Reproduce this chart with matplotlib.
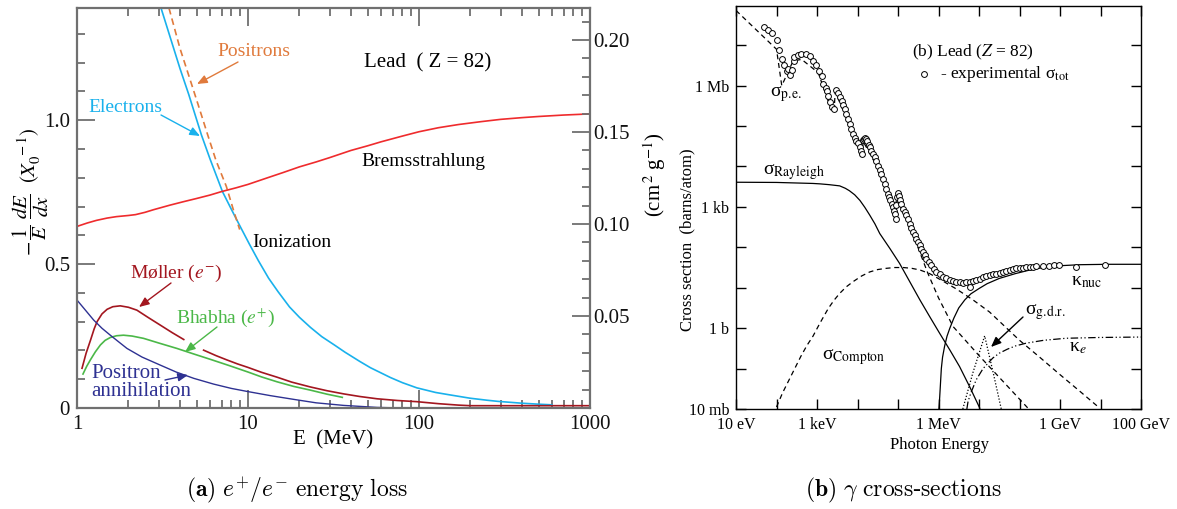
import numpy as np
import matplotlib
matplotlib.use("Agg")
import matplotlib.pyplot as plt
from matplotlib.lines import Line2D
from matplotlib.patches import FancyArrowPatch
from matplotlib.ticker import LogLocator, MultipleLocator, NullFormatter

plt.rcParams['font.family'] = ['Liberation Serif', 'DejaVu Serif']
plt.rcParams['mathtext.fontset'] = 'stix'

W, H = 1177, 509

# ---------------- panel (a): e+/e- energy loss in lead ----------------
electrons_E = [3.1, 3.5, 4.0, 4.5, 5.34, 6.0, 7.09, 8.0, 8.49, 9.2, 10.2, 11.5, 13.2, 15, 17.5,
               20, 23.2, 27, 32, 36.9, 45, 52, 59, 68, 80, 97.2, 125, 150, 199, 250, 290, 400,
               510, 600]
electrons_y = [1.39, 1.29, 1.18, 1.09, 0.949, 0.865, 0.752, 0.69, 0.66, 0.62, 0.569, 0.512,
               0.451, 0.404, 0.351, 0.315, 0.280, 0.248, 0.219, 0.194, 0.162, 0.140, 0.124,
               0.106, 0.088, 0.070, 0.054, 0.046, 0.034, 0.027, 0.023, 0.0166, 0.013, 0.011]

positrons_E = [3.45, 4.0, 4.69, 5.2, 5.77, 6.5, 7.47, 8.2, 8.94]
positrons_y = [1.39, 1.25, 1.123, 1.04, 0.955, 0.86, 0.77, 0.69, 0.62]

brems_E = [1, 1.15, 1.3, 1.5, 1.7, 2.0, 2.2, 2.5, 2.8, 3.5, 4.2, 5, 6, 7, 8.5, 10, 13, 16, 20,
           25, 30, 40, 50, 60, 80, 100, 130, 170, 230, 300, 400, 500, 700, 1000]
brems_y = [0.631, 0.643, 0.652, 0.660, 0.665, 0.669, 0.672, 0.680, 0.689, 0.705, 0.717, 0.728,
           0.740, 0.752, 0.765, 0.777, 0.80, 0.818, 0.838, 0.855, 0.87, 0.895, 0.911, 0.925,
           0.945, 0.96, 0.974, 0.985, 0.995, 1.003, 1.009, 1.013, 1.018, 1.022]

moller_E1 = [1.07, 1.13, 1.2, 1.26, 1.31, 1.4, 1.5, 1.62, 1.79, 2.0, 2.24, 2.6, 3.07, 3.6, 4.21]
moller_y1 = [0.138, 0.19, 0.236, 0.275, 0.300, 0.327, 0.343, 0.352, 0.355, 0.350, 0.340, 0.315,
             0.288, 0.262, 0.238]
moller_E2 = [5.5, 6.5, 7.53, 8.7, 10, 12, 14.8, 18, 23.2, 29, 36.3, 45, 56.9, 75, 97.2, 130,
             170, 200, 1000]
moller_y2 = [0.201, 0.182, 0.167, 0.153, 0.141, 0.124, 0.107, 0.090, 0.073, 0.06, 0.049, 0.040,
             0.032, 0.026, 0.022, 0.015, 0.010, 0.008, 0.008]

bhabha_E = [1.084, 1.14, 1.197, 1.28, 1.37, 1.46, 1.566, 1.7, 1.87, 2.1, 2.45, 3.0, 3.84, 4.8,
            6.03, 7.8, 10, 12, 14.8, 18.5, 23.2, 29, 35.6]
bhabha_y = [0.118, 0.145, 0.167, 0.195, 0.219, 0.235, 0.245, 0.251, 0.253, 0.250, 0.242, 0.226,
            0.207, 0.188, 0.169, 0.147, 0.125, 0.108, 0.091, 0.075, 0.062, 0.048, 0.037]

annih_E = [1, 1.12, 1.25, 1.4, 1.566, 1.76, 1.96, 2.4, 3.07, 3.8, 4.82, 6.3, 8, 10, 13.5, 18.5,
           25, 36.3, 56.9, 80]
annih_y = [0.375, 0.34, 0.306, 0.277, 0.253, 0.229, 0.207, 0.177, 0.149, 0.125, 0.103, 0.083,
           0.068, 0.057, 0.043, 0.030, 0.018, 0.009, 0.002, 0.0]

a_xticks = [1, 10, 100, 1000]
a_xticklabels = ['1', '10', '100', '1000']
a_yticks = [0, 0.5, 1.0]
a_yticklabels = ['0', '0.5', '1.0']
a_rticks = [0.05, 0.10, 0.15, 0.20]
a_rticklabels = ['0.05', '0.10', '0.15', '0.20']

# ---------------- panel (b): photon cross sections (log10 eV, log10 barn) ----------------
tot_pts = [
    (1.698, 7.449), (1.797, 7.367), (1.879, 7.310), (2.002, 7.121), (2.068, 6.882),
    (2.126, 6.652), (2.191, 6.513), (2.249, 6.365), (2.290, 6.406), (2.331, 6.266),
    (2.372, 6.381), (2.438, 6.611), (2.438, 6.710), (2.537, 6.759), (2.602, 6.776),
    (2.726, 6.776), (2.824, 6.735), (2.906, 6.611), (2.972, 6.513), (3.054, 6.365),
    (3.112, 6.242), (3.153, 6.036), (3.210, 5.937), (3.235, 5.872), (3.276, 5.749),
    (3.317, 5.601), (3.375, 5.477), (3.424, 5.420), (3.465, 5.888), (3.523, 5.806),
    (3.564, 5.724), (3.605, 5.625), (3.646, 5.527), (3.687, 5.420), (3.728, 5.297),
    (3.769, 5.173), (3.810, 5.050), (3.851, 4.927), (3.892, 4.804), (3.933, 4.705),
    (3.975, 4.639), (4.016, 4.574), (4.057, 4.475), (4.098, 4.376), (4.114, 4.311),
    (4.139, 4.656), (4.170, 4.690), (4.196, 4.705), (4.220, 4.680), (4.246, 4.639),
    (4.287, 4.541), (4.315, 4.47), (4.344, 4.393), (4.385, 4.31), (4.426, 4.228),
    (4.467, 4.13), (4.509, 4.023), (4.550, 3.92), (4.591, 3.818), (4.632, 3.70),
    (4.673, 3.571), (4.714, 3.45), (4.755, 3.325), (4.785, 3.24), (4.813, 3.160),
    (4.845, 3.08), (4.878, 2.996), (4.900, 2.91), (4.919, 2.832), (4.944, 2.708),
    (4.960, 3.05), (4.977, 3.242), (5.010, 3.341), (5.025, 3.26), (5.043, 3.160),
    (5.084, 3.062), (5.125, 2.955), (5.166, 2.87), (5.207, 2.790), (5.248, 2.69),
    (5.289, 2.585), (5.330, 2.48), (5.371, 2.380), (5.412, 2.30), (5.454, 2.215),
    (5.495, 2.13), (5.536, 2.051), (5.577, 1.97), (5.618, 1.887), (5.659, 1.80),
    (5.700, 1.722), (5.760, 1.64), (5.823, 1.558), (5.885, 1.47), (5.947, 1.394),
    (6.030, 1.33), (6.111, 1.270), (6.190, 1.23), (6.275, 1.188), (6.360, 1.165),
    (6.440, 1.147), (6.520, 1.13), (6.604, 1.122), (6.685, 1.13), (6.768, 1.147),
    (6.768, 1.024), (6.850, 1.165), (6.933, 1.188), (7.015, 1.22), (7.097, 1.254),
    (7.180, 1.28), (7.261, 1.311), (7.345, 1.33), (7.426, 1.352), (7.510, 1.37),
    (7.590, 1.394), (7.670, 1.415), (7.754, 1.435), (7.840, 1.455), (7.919, 1.476),
    (8.000, 1.49), (8.083, 1.500), (8.165, 1.51), (8.247, 1.517), (8.330, 1.525),
    (8.412, 1.533), (8.576, 1.541), (8.740, 1.550), (8.864, 1.558), (8.987, 1.558),
    (9.398, 1.517), (10.121, 1.574)]
tot_logE = [a for a, b in tot_pts]
tot_logsig = [b for a, b in tot_pts]

pe_logE = [1.0, 2.0, 2.13, 2.41, 2.62, 3.03, 3.3, 3.42, 3.45, 3.9, 4.11, 4.14, 4.6, 4.93,
           4.96, 5.3, 5.55, 5.74, 6.0, 6.36, 7.02, 8.2]
pe_logsig = [7.86, 6.90, 6.0, 6.61, 6.65, 6.32, 5.55, 5.35, 5.85, 4.78, 4.28, 4.62, 3.78, 2.69,
             3.22, 2.5, 1.85, 1.35, 0.75, 0.04, -0.70, -1.97]

ray_logE = [1, 2, 2.9, 3.07, 3.3, 3.56, 3.7, 3.8, 3.93, 4.06, 4.18, 4.3, 4.43, 4.55, 4.8, 5.04,
            5.29, 5.54, 5.78, 6.03, 6.28, 6.52, 6.77, 7.02]
ray_logsig = [3.61, 3.605, 3.58, 3.57, 3.55, 3.52, 3.46, 3.40, 3.30, 3.16, 2.99, 2.80, 2.58,
              2.34, 1.97, 1.60, 1.15, 0.70, 0.29, -0.13, -0.54, -0.95, -1.45, -1.98]

comp_logE = [2.0, 2.15, 2.3, 2.45, 2.6, 2.75, 2.9, 3.07, 3.28, 3.42, 3.56, 3.72, 3.89, 4.1, 4.3,
             4.5, 4.71, 4.92, 5.13, 5.34, 5.54, 5.78, 6.1, 6.44, 6.85, 7.26, 7.63, 8.0, 8.5,
             9.0, 9.5, 9.97]
comp_logsig = [-1.95, -1.6, -1.3, -1.0, -0.7, -0.43, -0.2, 0.12, 0.49, 0.69, 0.86, 1.02, 1.15,
               1.29, 1.39, 1.45, 1.48, 1.50, 1.50, 1.48, 1.44, 1.35, 1.17, 0.97, 0.70, 0.40,
               0.05, -0.30, -0.72, -1.15, -1.57, -1.97]

nuc_logE = [6.01, 6.02, 6.03, 6.05, 6.07, 6.1, 6.15, 6.21, 6.28, 6.38, 6.5, 6.65, 6.8, 7.0, 7.2,
            7.5, 7.9, 8.3, 8.7, 9.1, 9.5, 10.2, 11.0]
nuc_logsig = [-2.0, -1.85, -1.7, -1.35, -1.0, -0.72, -0.45, -0.2, 0.0, 0.25, 0.5, 0.70, 0.85,
              0.98, 1.1, 1.23, 1.35, 1.45, 1.52, 1.55, 1.57, 1.58, 1.58]

ke_logE = [6.70, 6.73, 6.8, 6.93, 7.1, 7.34, 7.5, 7.7, 7.9, 8.17, 8.6, 9.15, 10.0, 11.0]
ke_logsig = [-2.0, -1.81, -1.6, -1.28, -1.0, -0.74, -0.62, -0.52, -0.44, -0.37, -0.30, -0.25,
             -0.23, -0.22]

gdr_logE = [6.60, 6.85, 7.14, 7.35, 7.55]
gdr_logsig = [-2.0, -1.1, -0.19, -1.1, -2.0]

b_xticks = [1e1, 1e3, 1e6, 1e9, 1e11]
b_xticklabels = ['10 eV', '1 keV', '1 MeV', '1 GeV', '100 GeV']
b_yticks = [1e-2, 1e0, 1e3, 1e6]
b_yticklabels = ['10 mb', '1 b', '1 kb', '1 Mb']


def fx(x):
    return x / W


def fy(y):
    return 1 - y / H


def arrow(x0, y0, x1, y1, color):
    fig.add_artist(FancyArrowPatch(
        (fx(x0), fy(y0)), (fx(x1), fy(y1)), transform=fig.transFigure,
        arrowstyle='-|>,head_length=6,head_width=2.5', color=color, lw=1.0,
        shrinkA=0, shrinkB=0))


fig = plt.figure(figsize=(W / 100, H / 100), dpi=100)

# ---------- panel a ----------
grey = '#707070'
ax = fig.add_axes([fx(77), fy(408), (590 - 77) / W, (408 - 8) / H])
c_el, c_pos, c_brem = '#19b1ec', '#e07a3c', '#ef2b2d'
c_mol, c_bha, c_ann = '#a3161f', '#4bb848', '#2e3192'
ax.plot(electrons_E, electrons_y, color=c_el, lw=1.2)
ax.plot(positrons_E, positrons_y, color=c_pos, lw=1.2, dashes=(4, 2.5))
ax.plot(brems_E, brems_y, color=c_brem, lw=1.2)
ax.plot(moller_E1, moller_y1, color=c_mol, lw=1.2)
ax.plot(moller_E2, moller_y2, color=c_mol, lw=1.2)
ax.plot(bhabha_E, bhabha_y, color=c_bha, lw=1.2)
ax.plot(annih_E, annih_y, color=c_ann, lw=1.0)

ax.set_xscale('log')
ax.set_xlim(1, 1000)
ax.set_ylim(0, 1.39)
ax.set_xticks(a_xticks)
ax.set_xticklabels(a_xticklabels)
ax.xaxis.set_minor_locator(LogLocator(base=10, subs=np.arange(2, 10)))
ax.xaxis.set_minor_formatter(NullFormatter())
ax.set_yticks(a_yticks)
ax.set_yticklabels(a_yticklabels)
ax.yaxis.set_minor_locator(MultipleLocator(0.1))
ax.tick_params(which='both', direction='in', colors=grey, labelcolor='#111111',
               labelsize=15, top=True, right=False, width=1.3)
ax.tick_params(which='major', length=13)
ax.tick_params(which='minor', length=6)
ax.tick_params(axis='x', pad=5)
ax.tick_params(axis='y', pad=5)
for s in ax.spines.values():
    s.set_color(grey)
    s.set_linewidth(1.6)

ax2 = ax.twinx()
ax2.set_ylim(0, 0.2174)
ax2.set_yticks(a_rticks)
ax2.set_yticklabels(a_rticklabels)
ax2.yaxis.set_minor_locator(MultipleLocator(0.01))
ax2.tick_params(which='both', direction='in', colors=grey, labelcolor='#111111',
                labelsize=15, width=1.3, pad=2)
ax2.tick_params(which='major', length=13)
ax2.tick_params(which='minor', length=6)
for s in ax2.spines.values():
    s.set_visible(False)

fig.text(fx(31), fy(192), r'$-\,\dfrac{1}{E}\ \dfrac{dE}{dx}\ \ (X_0^{\ -1})$', rotation=90,
         ha='center', va='center', fontsize=15)
fig.text(fx(655), fy(175), r'(cm$^{\,2}$ g$^{-1}$)', rotation=90, ha='center', va='center',
         fontsize=15)
fig.text(fx(333), fy(440), 'E  (MeV)', ha='center', va='center', fontsize=15)

fs_a = 14
fig.text(fx(254), fy(52), 'Positrons', color=c_pos, ha='center', va='center', fontsize=fs_a)
fig.text(fx(125), fy(107), 'Electrons', color=c_el, ha='center', va='center', fontsize=fs_a)
fig.text(fx(428), fy(63), 'Lead  ( Z = 82)', ha='center', va='center', fontsize=fs_a + 1)
fig.text(fx(423), fy(162), 'Bremsstrahlung', ha='center', va='center', fontsize=fs_a)
fig.text(fx(292), fy(243), 'Ionization', ha='center', va='center', fontsize=fs_a)
fig.text(fx(176), fy(273), r'Møller ($e^{-}$)', color=c_mol, ha='center', va='center', fontsize=fs_a)
fig.text(fx(225), fy(318), r'Bhabha ($e^{+}$)', color=c_bha, ha='center', va='center', fontsize=fs_a)
fig.text(fx(91), fy(373), 'Positron', color=c_ann, ha='left', va='center', fontsize=fs_a + 1)
fig.text(fx(91), fy(392), 'annihilation', color=c_ann, ha='left', va='center', fontsize=fs_a + 1)

arrow(238, 62, 197, 84, c_pos)
arrow(161, 115, 200, 136, c_el)
arrow(171, 283, 139, 307, c_mol)
arrow(217, 327, 185, 352, c_bha)
arrow(165, 380, 188, 375, c_ann)

# ---------- panel b ----------
bx = fig.add_axes([fx(736), fy(409), (1141 - 736) / W, (409 - 6) / H])
lk = dict(color='black', lw=0.9)
p = lambda a: 10.0 ** np.asarray(a)
bx.plot(p(pe_logE), p(pe_logsig), dashes=(4, 3), **lk)
bx.plot(p(ray_logE), p(ray_logsig), **lk)
bx.plot(p(comp_logE), p(comp_logsig), dashes=(4, 3), **lk)
bx.plot(p(nuc_logE), p(nuc_logsig), **lk)
bx.plot(p(ke_logE), p(ke_logsig), dashes=(6, 2, 1, 2, 1, 2), **lk)
bx.plot(p(gdr_logE), p(gdr_logsig), dashes=(1, 1.5), **lk)
bx.plot(p(tot_logE), p(tot_logsig), 'o', ms=4.2, mfc='white', mec='black', mew=0.7)

bx.set_xscale('log')
bx.set_yscale('log')
bx.set_xlim(1e1, 1e11)
bx.set_ylim(1e-2, 10 ** 7.97)
bx.xaxis.set_minor_locator(LogLocator(base=10, subs=[1.0], numticks=20))
bx.yaxis.set_minor_locator(LogLocator(base=10, subs=[1.0], numticks=20))
bx.xaxis.set_minor_formatter(NullFormatter())
bx.yaxis.set_minor_formatter(NullFormatter())
bx.set_xticks(b_xticks)
bx.set_xticklabels(b_xticklabels)
bx.set_yticks(b_yticks)
bx.set_yticklabels(b_yticklabels)
bx.tick_params(which='both', direction='in', top=True, right=True, length=7, width=1.0,
               labelsize=11.5)
bx.tick_params(axis='x', pad=6)
bx.tick_params(axis='y', pad=5)
for s in bx.spines.values():
    s.set_linewidth(1.0)

fig.text(fx(687), fy(240), 'Cross section  (barns/atom)', rotation=90, ha='center',
         va='center', fontsize=12)
fig.text(fx(939), fy(445), 'Photon Energy', ha='center', va='center', fontsize=12)

fig.text(fx(973), fy(52), r'(b) Lead ($Z$ = 82)', ha='center', va='center', fontsize=12.5)
fig.add_artist(Line2D([fx(924)], [fy(74)], marker='o', ms=4.2, mfc='white', mec='black',
                      mew=0.7, transform=fig.transFigure))
fig.text(fx(940), fy(74), '- experimental σ$_{\\rm tot}$', ha='left', va='center', fontsize=12.5)
fs_b = 14
fig.text(fx(786), fy(94), 'σ$_{\\mathrm{p.\\!e.}}$', ha='center', va='center', fontsize=fs_b)
fig.text(fx(794), fy(172), 'σ$_{\\rm Rayleigh}$', ha='center', va='center', fontsize=fs_b)
fig.text(fx(854), fy(357), 'σ$_{\\rm Compton}$', ha='center', va='center', fontsize=fs_b)
fig.text(fx(1087), fy(282), 'κ$_{\\rm nuc}$', ha='center', va='center', fontsize=fs_b)
fig.text(fx(1046), fy(312), 'σ$_{\\mathrm{g.\\!d.\\!r.}}$', ha='center', va='center', fontsize=fs_b)
fig.text(fx(1078), fy(347), 'κ$_{e}$', ha='center', va='center', fontsize=fs_b)
arrow(1023, 317, 991, 347, 'black')

# ---------- captions ----------
fig.text(fx(297), fy(490), r'$\mathbf{(a)}\ e^{+}/e^{-}\ \mathrm{energy\ loss}$', ha='center',
         va='center', fontsize=17, math_fontfamily='cm')
fig.text(fx(903), fy(490), r'$\mathbf{(b)}\ \gamma\ \mathrm{cross}$-$\mathrm{sections}$', ha='center',
         va='center', fontsize=17, math_fontfamily='cm')

fig.savefig('out.png', dpi=100)
